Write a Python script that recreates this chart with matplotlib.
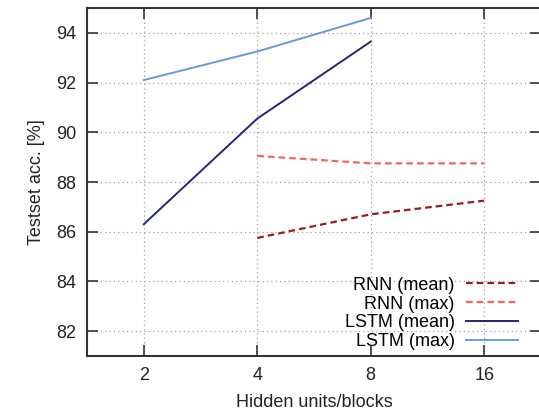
import numpy as np
import matplotlib.pyplot as plt
import matplotlib as mpl

mpl.rcParams['font.family'] = ['Liberation Sans', 'DejaVu Sans']
plt.rcParams['font.size'] = 13

# data (x = hidden units/blocks)
rnn_x = [4, 8, 16]
rnn_mean = [85.75, 86.7, 87.25]
rnn_max = [89.05, 88.75, 88.75]
lstm_x = [2, 4, 8]
lstm_mean = [86.3, 90.55, 93.65]
lstm_max = [92.1, 93.25, 94.6]
xticks = [2, 4, 8, 16]
yticks = [82, 84, 86, 88, 90, 92, 94]

fig = plt.figure(figsize=(5.39, 4.13), dpi=100)
ax = fig.add_axes([87 / 539, 57 / 413, 454 / 539, 348 / 413])

ax.plot(rnn_x, rnn_mean, color='#9b1b1f', lw=1.6, ls=(0, (3, 1.8)), label='RNN (mean)')
ax.plot(rnn_x, rnn_max, color='#f06464', lw=1.6, ls=(0, (3, 1.8)), label='RNN (max)')
ax.plot(lstm_x, lstm_mean, color='#25257a', lw=1.4, label='LSTM (mean)')
ax.plot(lstm_x, lstm_max, color='#6b98da', lw=1.4, label='LSTM (max)')

ax.set_xscale('log', base=2)
ax.set_xlim(2 ** 0.5, 2 ** 4.5)
ax.set_ylim(81, 95)
ax.set_xticks(xticks)
ax.set_xticklabels([str(v) for v in xticks])
ax.minorticks_off()
ax.set_yticks(yticks)

ax.grid(True, color='#a0a0a0', ls=(0, (1, 2.5)), lw=0.9)
ax.tick_params(direction='in', length=8, width=1.2, color='#333333',
               top=True, right=True, pad=8, labelcolor='#222222')
for s in ax.spines.values():
    s.set_linewidth(1.5)
    s.set_color('#333333')

ax.set_xlabel('Hidden units/blocks', color='#222222', labelpad=7)
ax.set_ylabel('Testset acc. [%]', color='#222222', labelpad=8)

leg = ax.legend(loc='lower right', bbox_to_anchor=(0.965, -0.004), frameon=False,
                markerfirst=False, handlelength=2.9, handletextpad=0.6,
                labelspacing=0.1, borderaxespad=0.0, fontsize=13)

fig.savefig('out.png', dpi=100)
